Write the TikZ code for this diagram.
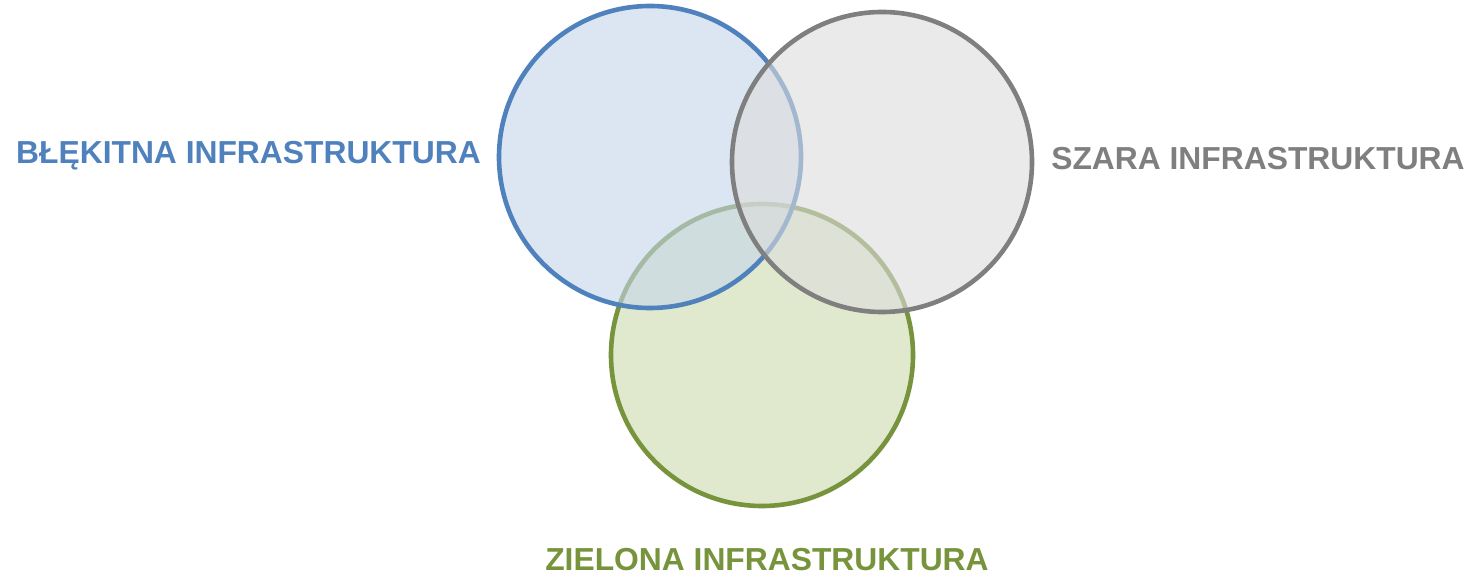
\documentclass[tikz,border=0pt]{standalone}
\usepackage{fontspec}
\setmainfont{Liberation Sans}
\begin{document}
\begin{tikzpicture}[x=1pt,y=-1pt,
  ring/.style={line width=4.6pt},
  lbl/.style={font=\bfseries\fontsize{31.8}{38}\selectfont, anchor=base, inner sep=0pt}]
\definecolor{bluestroke}{HTML}{4F81BD}
\definecolor{bluefill}{HTML}{C4D5EA}
\definecolor{graystroke}{HTML}{7F7F7F}
\definecolor{grayfill}{HTML}{DCDCDC}
\definecolor{greenstroke}{HTML}{77933C}
\definecolor{greenfill}{HTML}{E0E9CE}
\useasboundingbox (0,0) rectangle (1468,577);
% green ring lies underneath, the other two are translucent
\draw[ring, draw=greenstroke, fill=greenfill] (762,355) circle (151);
\draw[ring, draw=bluestroke, fill=bluefill, fill opacity=0.6] (650,157) circle (151);
\draw[ring, draw=graystroke, fill=grayfill, fill opacity=0.6] (882,162) circle (150);
\node[lbl, text=bluestroke] (blue) at (248.5,164) {BŁĘKITNA INFRASTRUKTURA};
\node[lbl, text=graystroke] (gray) at (1258,170) {SZARA INFRASTRUKTURA};
\node[lbl, text=greenstroke] (green) at (767,570) {ZIELONA INFRASTRUKTURA};
\end{tikzpicture}
\end{document}
